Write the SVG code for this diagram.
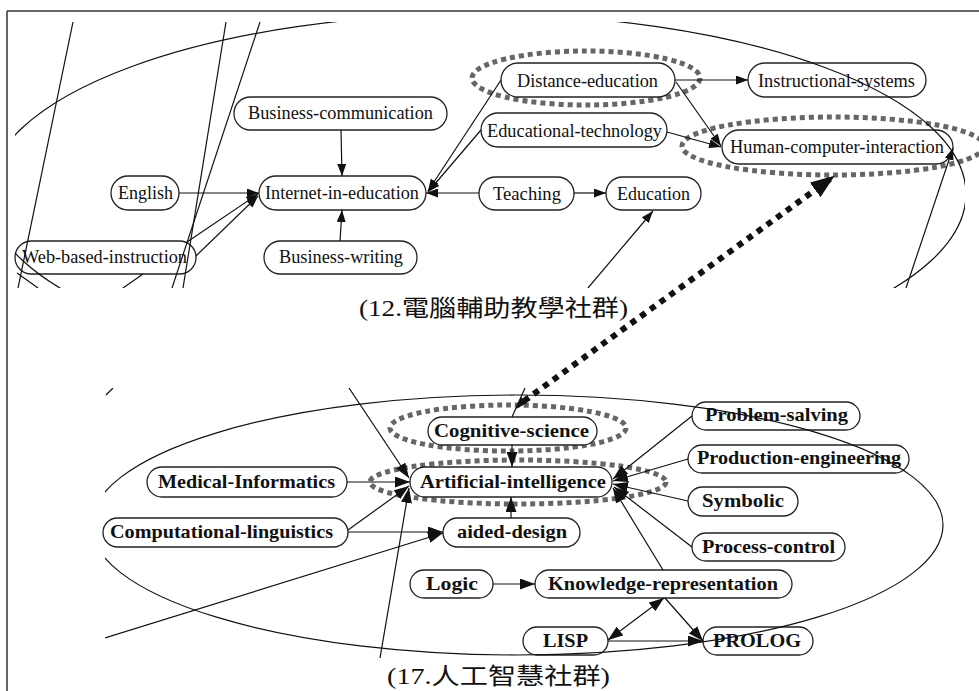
<svg xmlns="http://www.w3.org/2000/svg" width="979" height="691" viewBox="0 0 979 691">
<style>
.nd rect{fill:#fff;stroke:#222;stroke-width:1.3}
.t1{font-family:"Liberation Serif","Times New Roman",serif;font-size:19px;fill:#111;text-anchor:middle}
.t2{font-family:"Liberation Serif","Times New Roman",serif;font-size:19px;font-weight:bold;fill:#111;text-anchor:middle}
.lab{font-family:"Liberation Serif","Noto Sans CJK TC",serif;font-size:23px;fill:#111;text-anchor:middle}
.e{fill:none;stroke:#111;stroke-width:1.2}
.ea{fill:none;stroke:#111;stroke-width:1.2;marker-end:url(#ah)}
.eb{fill:none;stroke:#111;stroke-width:1.2;marker-end:url(#ahb)}
.hl{fill:none;stroke:#666;stroke-width:5;stroke-dasharray:5 4}
.frame{stroke:#333;stroke-width:1.5;fill:none}
</style>
<defs>
<marker id="ah" viewBox="0 0 12 9" refX="12" refY="4.5" markerWidth="12" markerHeight="9" markerUnits="userSpaceOnUse" orient="auto-start-reverse"><path d="M0,0 L12,4.5 L0,9 z" fill="#111"/></marker>
<marker id="ahb" viewBox="0 0 15 11" refX="15" refY="5.5" markerWidth="15" markerHeight="11" markerUnits="userSpaceOnUse" orient="auto-start-reverse"><path d="M0,0 L15,5.5 L0,11 z" fill="#111"/></marker>
<marker id="ahd" viewBox="0 0 24 18" refX="22" refY="9" markerWidth="24" markerHeight="18" markerUnits="userSpaceOnUse" orient="auto"><path d="M0,0 L24,9 L0,18 z" fill="#111"/></marker>
<clipPath id="cTop"><rect x="15" y="22" width="950" height="266"/></clipPath>
<clipPath id="cBot"><rect x="105" y="388" width="874" height="270"/></clipPath>
</defs>

<g id="frame">
<line class="frame" x1="7" y1="11" x2="979" y2="11"/>
<line class="frame" x1="7" y1="11" x2="7" y2="691"/>
</g>

<g id="highlights">
<ellipse class="hl" cx="586" cy="78" rx="114" ry="27"/>
<ellipse class="hl" cx="833" cy="146" rx="151" ry="29"/>
<ellipse class="hl" cx="508" cy="428" rx="118" ry="23"/>
<ellipse class="hl" cx="518" cy="482" rx="148" ry="22"/>
</g>

<g id="n_bc" class="nd"><rect x="234" y="97" width="213" height="33" rx="16.5"/><text class="t1" x="340.5" y="119" textLength="185" lengthAdjust="spacingAndGlyphs">Business-communication</text></g>
<g id="n_en" class="nd"><rect x="111" y="176" width="68" height="34" rx="17"/><text class="t1" x="145.5" y="199" textLength="55" lengthAdjust="spacingAndGlyphs">English</text></g>
<g id="n_iie" class="nd"><rect x="259" y="176" width="167" height="34" rx="17"/><text class="t1" x="342" y="199" textLength="154" lengthAdjust="spacingAndGlyphs">Internet-in-education</text></g>
<g id="n_wbi" class="nd"><rect x="15" y="241" width="181" height="33" rx="16.5"/><text class="t1" x="104.5" y="263" textLength="165" lengthAdjust="spacingAndGlyphs">Web-based-instruction</text></g>
<g id="n_bw" class="nd"><rect x="264" y="241" width="153" height="33" rx="16.5"/><text class="t1" x="341" y="263" textLength="124" lengthAdjust="spacingAndGlyphs">Business-writing</text></g>
<g id="n_de" class="nd"><rect x="501" y="63" width="174" height="34" rx="17"/><text class="t1" x="587.5" y="87" textLength="141" lengthAdjust="spacingAndGlyphs">Distance-education</text></g>
<g id="n_is" class="nd"><rect x="748" y="63" width="178" height="34" rx="17"/><text class="t1" x="836.5" y="87" textLength="157" lengthAdjust="spacingAndGlyphs">Instructional-systems</text></g>
<g id="n_et" class="nd"><rect x="481" y="113" width="186" height="34" rx="17"/><text class="t1" x="574.5" y="137" textLength="175" lengthAdjust="spacingAndGlyphs">Educational-technology</text></g>
<g id="n_hci" class="nd"><rect x="722" y="130" width="231" height="34" rx="17"/><text class="t1" x="837" y="153" textLength="214" lengthAdjust="spacingAndGlyphs">Human-computer-interaction</text></g>
<g id="n_te" class="nd"><rect x="479" y="177" width="95" height="33" rx="16.5"/><text class="t1" x="527" y="200" textLength="68" lengthAdjust="spacingAndGlyphs">Teaching</text></g>
<g id="n_ed" class="nd"><rect x="606" y="177" width="95" height="33" rx="16.5"/><text class="t1" x="653.5" y="200" textLength="73" lengthAdjust="spacingAndGlyphs">Education</text></g>

<g id="n_cs" class="nd"><rect x="428" y="417" width="169" height="28" rx="14"/><text class="t2" x="511.5" y="437" textLength="155" lengthAdjust="spacingAndGlyphs">Cognitive-science</text></g>
<g id="n_ai" class="nd"><rect x="410" y="467" width="202" height="30" rx="15"/><text class="t2" x="513" y="488" textLength="186" lengthAdjust="spacingAndGlyphs">Artificial-intelligence</text></g>
<g id="n_ad" class="nd"><rect x="443" y="518" width="137" height="29" rx="14.5"/><text class="t2" x="512" y="538" textLength="110" lengthAdjust="spacingAndGlyphs">aided-design</text></g>
<g id="n_mi" class="nd"><rect x="147" y="467" width="200" height="30" rx="15"/><text class="t2" x="246.5" y="488" textLength="177" lengthAdjust="spacingAndGlyphs">Medical-Informatics</text></g>
<g id="n_cl" class="nd"><rect x="103" y="518" width="245" height="29" rx="14.5"/><text class="t2" x="221.5" y="538" textLength="223" lengthAdjust="spacingAndGlyphs">Computational-linguistics</text></g>
<g id="n_lo" class="nd"><rect x="410" y="570" width="83" height="28" rx="14"/><text class="t2" x="452" y="590" textLength="52" lengthAdjust="spacingAndGlyphs">Logic</text></g>
<g id="n_kr" class="nd"><rect x="535" y="570" width="257" height="28" rx="14"/><text class="t2" x="663" y="590" textLength="230" lengthAdjust="spacingAndGlyphs">Knowledge-representation</text></g>
<g id="n_li" class="nd"><rect x="523" y="627" width="85" height="28" rx="14"/><text class="t2" x="565.5" y="647" textLength="45" lengthAdjust="spacingAndGlyphs">LISP</text></g>
<g id="n_pr" class="nd"><rect x="703" y="627" width="110" height="28" rx="14"/><text class="t2" x="757" y="647" textLength="88" lengthAdjust="spacingAndGlyphs">PROLOG</text></g>
<g id="n_ps" class="nd"><rect x="692" y="402" width="168" height="28" rx="14"/><text class="t2" x="776.5" y="421" textLength="143" lengthAdjust="spacingAndGlyphs">Problem-salving</text></g>
<g id="n_pe" class="nd"><rect x="688" y="445" width="221" height="28" rx="14"/><text class="t2" x="799" y="464" textLength="204" lengthAdjust="spacingAndGlyphs">Production-engineering</text></g>
<g id="n_sy" class="nd"><rect x="688" y="487" width="110" height="29" rx="14.5"/><text class="t2" x="743" y="507" textLength="82" lengthAdjust="spacingAndGlyphs">Symbolic</text></g>
<g id="n_pc" class="nd"><rect x="692" y="533" width="153" height="28" rx="14"/><text class="t2" x="768.5" y="553" textLength="133" lengthAdjust="spacingAndGlyphs">Process-control</text></g>

<g id="connectors">
<g clip-path="url(#cTop)">
<ellipse class="e" cx="477" cy="194" rx="489" ry="180"/>
<line class="e" x1="73" y1="22" x2="18" y2="288"/>
<line class="e" x1="226" y1="22" x2="183" y2="288"/>
<line class="e" x1="260" y1="22" x2="172" y2="288"/>
<line class="e" x1="17" y1="273" x2="38" y2="288"/>
<line class="e" x1="123" y1="288" x2="143" y2="274"/>
<line class="ea" x1="588" y1="288" x2="653" y2="211"/>
<line class="ea" x1="906" y1="288" x2="953" y2="148"/>
</g>
<line class="ea" x1="341" y1="130" x2="342" y2="176"/>
<line class="ea" x1="179" y1="193" x2="259" y2="193"/>
<line class="ea" x1="187" y1="242" x2="258" y2="194"/>
<line class="ea" x1="196" y1="256" x2="258" y2="196"/>
<line class="ea" x1="340" y1="241" x2="342" y2="210"/>
<line class="ea" x1="501" y1="80" x2="428" y2="191"/>
<line class="ea" x1="481" y1="130" x2="428" y2="192"/>
<line class="ea" x1="479" y1="193" x2="426" y2="193"/>
<line class="ea" x1="574" y1="193" x2="606" y2="193"/>
<line class="ea" x1="675" y1="80" x2="748" y2="80"/>
<line class="ea" x1="676" y1="82" x2="721" y2="146"/>
<line class="ea" x1="667" y1="132" x2="721" y2="147"/>

<g clip-path="url(#cBot)">
<ellipse class="e" cx="517" cy="525" rx="426" ry="130"/>
<line class="e" x1="106" y1="395" x2="113" y2="388"/>
<line class="eb" x1="349" y1="388" x2="409" y2="478"/>
<line class="eb" x1="105" y1="638" x2="443" y2="533"/>
<line class="eb" x1="380" y1="658" x2="409" y2="488"/>
<line class="e" x1="525" y1="388" x2="512" y2="417"/>
</g>
<line class="eb" x1="512" y1="445" x2="512" y2="467"/>
<line class="eb" x1="511" y1="518" x2="511" y2="497"/>
<line class="eb" x1="347" y1="482" x2="410" y2="482"/>
<line class="eb" x1="348" y1="530" x2="409" y2="486"/>
<line class="eb" x1="348" y1="532" x2="443" y2="532"/>
<line class="eb" x1="692" y1="416" x2="613" y2="479"/>
<line class="eb" x1="688" y1="459" x2="613" y2="481"/>
<line class="eb" x1="688" y1="501" x2="613" y2="484"/>
<line class="eb" x1="692" y1="547" x2="614" y2="487"/>
<line class="eb" x1="663" y1="570" x2="613" y2="488"/>
<line class="eb" x1="493" y1="584" x2="535" y2="584"/>
<line class="eb" x1="664" y1="598" x2="608" y2="640" marker-start="url(#ahb)"/>
<line class="eb" x1="665" y1="598" x2="703" y2="641"/>
<line class="eb" x1="608" y1="641" x2="703" y2="641"/>

<line x1="524" y1="401" x2="833" y2="177" fill="none" stroke="#111" stroke-width="6" stroke-dasharray="6 6" marker-end="url(#ahd)"/>
<path d="M516,409 L527,403 L521,397 z" fill="#111"/>
</g>

<g id="labels">
<text class="lab" x="493.5" y="316" textLength="269" lengthAdjust="spacingAndGlyphs">(12.電腦輔助教學社群)</text>
<text class="lab" x="498.5" y="684" textLength="223" lengthAdjust="spacingAndGlyphs">(17.人工智慧社群)</text>
</g>
</svg>
